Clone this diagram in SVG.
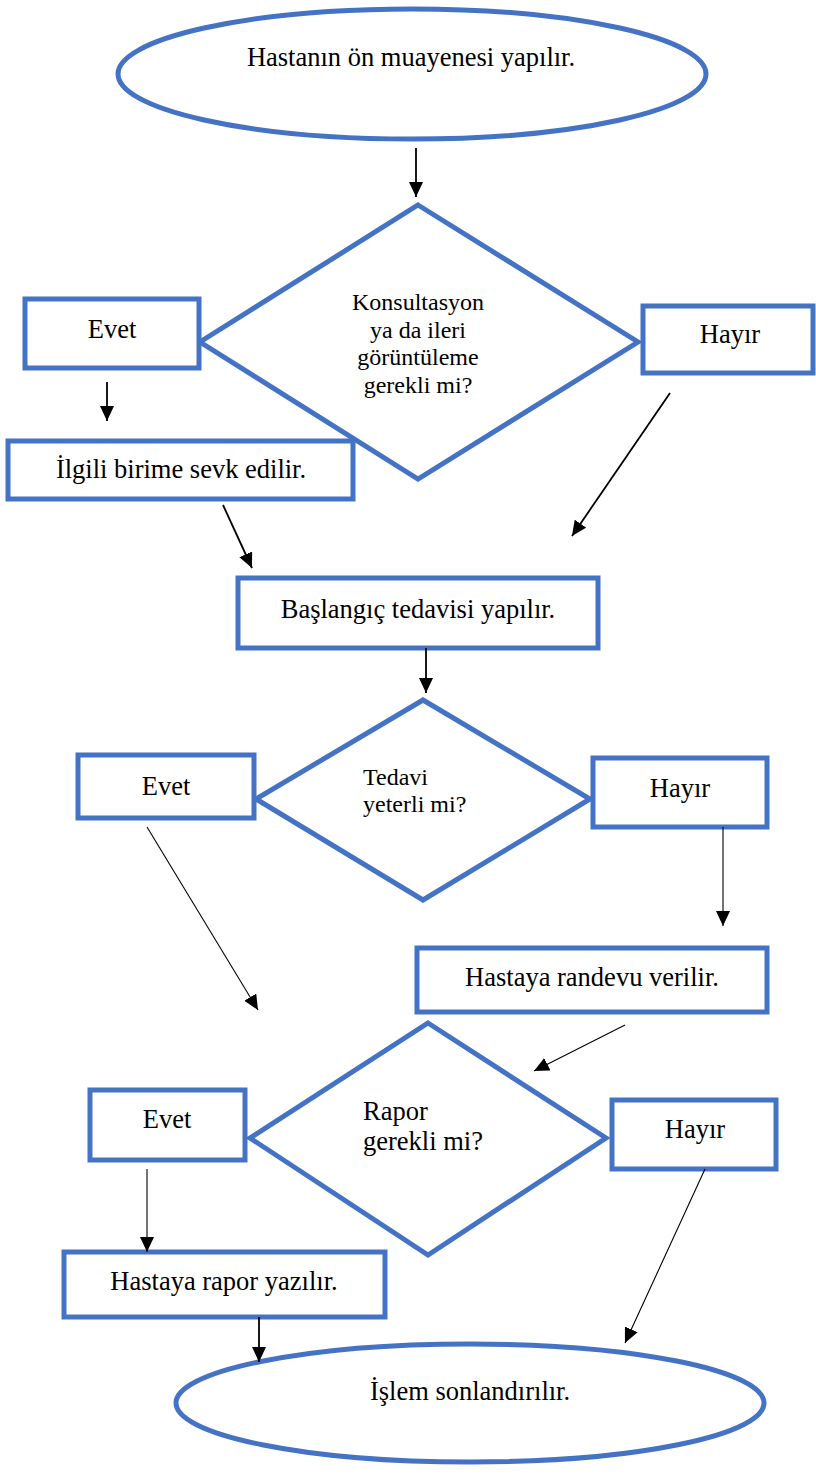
<svg xmlns="http://www.w3.org/2000/svg" width="816" height="1475" viewBox="0 0 816 1475" font-family="'Liberation Serif', 'DejaVu Serif', 'Times New Roman', serif">
<style>
.shape{fill:#ffffff;stroke:#4472C4;stroke-width:5}
text{font-family:'Liberation Serif','DejaVu Serif',serif;fill:#000000}
.t{font-size:26.5px;text-anchor:middle}
.d{font-size:24px;text-anchor:middle}
.ds{font-size:24px}
.rs{font-size:26.5px}
.c1{stroke:#000000;stroke-width:1.8;fill:none;marker-end:url(#ah)}
.c2{stroke:#000000;stroke-width:1.1;fill:none;marker-end:url(#ah)}
</style>
<defs>
<marker id="ah" markerUnits="userSpaceOnUse" markerWidth="16" markerHeight="14" refX="15" refY="7" orient="auto">
<path d="M0,0 L15,7 L0,14 z" fill="#000000"/>
</marker>
</defs>
<rect width="816" height="1475" fill="#ffffff"/>

<g id="start">
<ellipse class="shape" cx="412" cy="74" rx="294" ry="65"/>
<text class="t" x="411" y="66" font-family="Liberation Serif">Hastanın ön muayenesi yapılır.</text>
</g>

<g id="decision1">
<polygon class="shape" points="418,205 638,342 418,479 200,342"/>
<text class="d" x="418" y="310" font-family="Liberation Serif">Konsultasyon</text>
<text class="d" x="418" y="338" font-family="Liberation Serif">ya da ileri</text>
<text class="d" x="418" y="365" font-family="Liberation Serif">görüntüleme</text>
<text class="d" x="418" y="393" font-family="Liberation Serif">gerekli mi?</text>
</g>

<g id="evet1">
<rect class="shape" x="25" y="299" width="174" height="69"/>
<text class="t" x="112" y="338" font-family="Liberation Serif">Evet</text>
</g>

<g id="hayir1">
<rect class="shape" x="643" y="306" width="170" height="67"/>
<text class="t" x="730" y="343" font-family="Liberation Serif">Hayır</text>
</g>

<g id="sevk">
<rect class="shape" x="8" y="441" width="345" height="58"/>
<text class="t" x="181" y="478" font-family="Liberation Serif">İlgili birime sevk edilir.</text>
</g>

<g id="baslangic">
<rect class="shape" x="238" y="578" width="360" height="70"/>
<text class="t" x="418" y="618" font-family="Liberation Serif">Başlangıç tedavisi yapılır.</text>
</g>

<g id="decision2">
<polygon class="shape" points="423,700 590,799 423,900 256,799"/>
<text class="ds" x="363" y="785" font-family="Liberation Serif">Tedavi</text>
<text class="ds" x="363" y="812" font-family="Liberation Serif">yeterli mi?</text>
</g>

<g id="evet2">
<rect class="shape" x="78" y="755" width="176" height="63"/>
<text class="t" x="166" y="795" font-family="Liberation Serif">Evet</text>
</g>

<g id="hayir2">
<rect class="shape" x="593" y="758" width="174" height="69"/>
<text class="t" x="680" y="797" font-family="Liberation Serif">Hayır</text>
</g>

<g id="randevu">
<rect class="shape" x="417" y="948" width="350" height="64"/>
<text class="t" x="592" y="986" font-family="Liberation Serif">Hastaya randevu verilir.</text>
</g>

<g id="decision3">
<polygon class="shape" points="428,1023 606,1138 428,1255 250,1138"/>
<text class="rs" x="363" y="1120" font-family="Liberation Serif">Rapor</text>
<text class="rs" x="363" y="1150" font-family="Liberation Serif">gerekli mi?</text>
</g>

<g id="evet3">
<rect class="shape" x="90" y="1090" width="155" height="70"/>
<text class="t" x="167" y="1128" font-family="Liberation Serif">Evet</text>
</g>

<g id="hayir3">
<rect class="shape" x="612" y="1100" width="164" height="69"/>
<text class="t" x="695" y="1138" font-family="Liberation Serif">Hayır</text>
</g>

<g id="rapor">
<rect class="shape" x="64" y="1252" width="321" height="65"/>
<text class="t" x="224" y="1290" font-family="Liberation Serif">Hastaya rapor yazılır.</text>
</g>

<g id="end">
<ellipse class="shape" cx="470" cy="1403" rx="294" ry="59"/>
<text class="t" x="470" y="1400" font-family="Liberation Serif">İşlem sonlandırılır.</text>
</g>

<g id="connectors">
<line class="c1" x1="416" y1="148" x2="416" y2="197"/>
<line class="c1" x1="107" y1="382" x2="107" y2="421"/>
<line class="c1" x1="670" y1="393" x2="572" y2="536"/>
<line class="c1" x1="223" y1="505" x2="252" y2="568"/>
<line class="c1" x1="426" y1="648" x2="426" y2="693"/>
<line class="c2" x1="147" y1="827" x2="258" y2="1010"/>
<line class="c2" x1="723" y1="827" x2="723" y2="926"/>
<line class="c2" x1="625" y1="1025" x2="534" y2="1071"/>
<line class="c2" x1="147" y1="1169" x2="147" y2="1252"/>
<line class="c1" x1="259" y1="1317" x2="259" y2="1362"/>
<line class="c2" x1="705" y1="1169" x2="625" y2="1343"/>
</g>
</svg>
